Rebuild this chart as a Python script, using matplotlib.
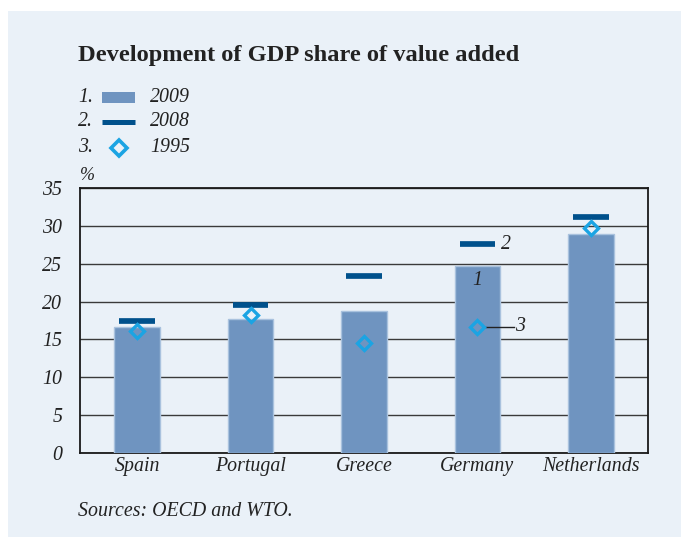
import matplotlib
matplotlib.use("Agg")
import matplotlib.pyplot as plt
from matplotlib.patches import Rectangle
from matplotlib.lines import Line2D
import numpy as np

countries = ["Spain", "Portugal", "Greece", "Germany", "Netherlands"]
share_2009 = [16.7, 17.7, 18.7, 24.7, 29.0]
share_2008 = [17.5, 19.6, 23.4, 27.6, 31.2]
share_1995 = [16.1, 18.2, 14.5, 16.7, 29.8]
y_ticks = [0, 5, 10, 15, 20, 25, 30, 35]

title = "Development of GDP share of value added"
source = "Sources: OECD and WTO."

BG = "#eaf1f8"
BAR = "#6f94c0"
BAR_EDGE = "#a9c2de"
DARK = "#00518c"
CYAN = "#1ba4e3"
TXT = "#222222"
SERIF = ["Liberation Serif", "DejaVu Serif"]

W, H = 681, 537
fig = plt.figure(figsize=(W / 100, H / 100), dpi=100)
fig.patch.set_facecolor("white")


def fx(px):
    return px / W


def fy(py):
    return 1 - py / H


# background panel
fig.patches.append(Rectangle((fx(8), 0), 1 - fx(8), fy(11), transform=fig.transFigure,
                             facecolor=BG, edgecolor="none", zorder=-5))

# title
fig.text(fx(78), fy(55), title, family=SERIF, fontweight="bold", fontsize=17.6,
         color=TXT, va="center", ha="left")

# legend
rows = [97.5, 122, 148]
labels = ["2009", "2008", "1995"]
for i, (yy, lab) in enumerate(zip(rows, labels)):
    fig.text(fx(78), fy(yy), f"{i + 1}.", family=SERIF, style="italic", fontsize=14.3,
             color=TXT, va="center", ha="left")
    fig.text(fx(150), fy(yy), lab, family=SERIF, style="italic", fontsize=14.3,
             color=TXT, va="center", ha="left")
fig.patches.append(Rectangle((fx(102), fy(102.7)), fx(33), 10.4 / H,
                             transform=fig.transFigure, facecolor=BAR, edgecolor="none"))
fig.lines.append(Line2D([fx(102), fx(135)], [fy(122), fy(122)], transform=fig.transFigure,
                        color=DARK, lw=3.6, solid_capstyle="butt"))
fig.lines.append(Line2D([fx(118.5)], [fy(148)], transform=fig.transFigure, ls="none",
                        marker="D", markersize=8, mfc="none", mec=CYAN, mew=2.6))

# plot area
ax = fig.add_axes([fx(80.3), 1 - 452.7 / H, 567.4 / W, 264.4 / H])
ax.set_facecolor("none")
x = np.arange(len(countries))
ax.bar(x, share_2009, width=0.4, color=BAR, edgecolor=BAR_EDGE, linewidth=1, zorder=3)
dash = ax.hlines(share_2008, x - 0.155, x + 0.155, colors=DARK, lw=4.1, zorder=4)
dash.set_capstyle("butt")
ax.plot(x, share_1995, ls="none", marker="D", markersize=7.5, mfc="none", mec=CYAN,
        mew=2.4, zorder=5)

ax.set_xlim(-0.5, len(countries) - 0.5)
ax.set_ylim(0, 35)
ax.set_yticks(y_ticks)
ax.set_yticklabels([str(t) for t in y_ticks], family=SERIF, style="italic", fontsize=14.3,
                   color=TXT)
ax.set_xticks(x)
ax.set_xticklabels(countries, family=SERIF, style="italic", fontsize=14.3, color=TXT)
ax.tick_params(axis="y", length=0, pad=13)
ax.tick_params(axis="x", length=0, pad=3)
ax.yaxis.grid(True, color="#3a3a3a", lw=1)
ax.set_axisbelow(True)
for s in ax.spines.values():
    s.set_color("#1a1a1a")
    s.set_linewidth(1.3)
ax.text(-0.5, 35.6, "%", family=SERIF, style="italic", fontsize=13, color=TXT,
        ha="left", va="bottom")

# series callouts on Germany
g = countries.index("Germany")
ax.text(g, share_2009[g] - 1.9, "1", family=SERIF, style="italic", fontsize=14.3,
        color=TXT, ha="center", va="center", zorder=6)
ax.text(g + 0.21, share_2008[g], "2", family=SERIF, style="italic", fontsize=14.3,
        color=TXT, ha="left", va="center", zorder=6)
ax.plot([g + 0.06, g + 0.32], [share_1995[g]] * 2, color="#222222", lw=1, zorder=4)
ax.text(g + 0.33, share_1995[g], "3", family=SERIF, style="italic", fontsize=14.3,
        color=TXT, ha="left", va="center", zorder=6)

# source note
fig.text(fx(78), fy(511), source, family=SERIF, style="italic", fontsize=14.3,
         color=TXT, va="center", ha="left")

fig.savefig("out.png", dpi=100, facecolor=fig.get_facecolor())
